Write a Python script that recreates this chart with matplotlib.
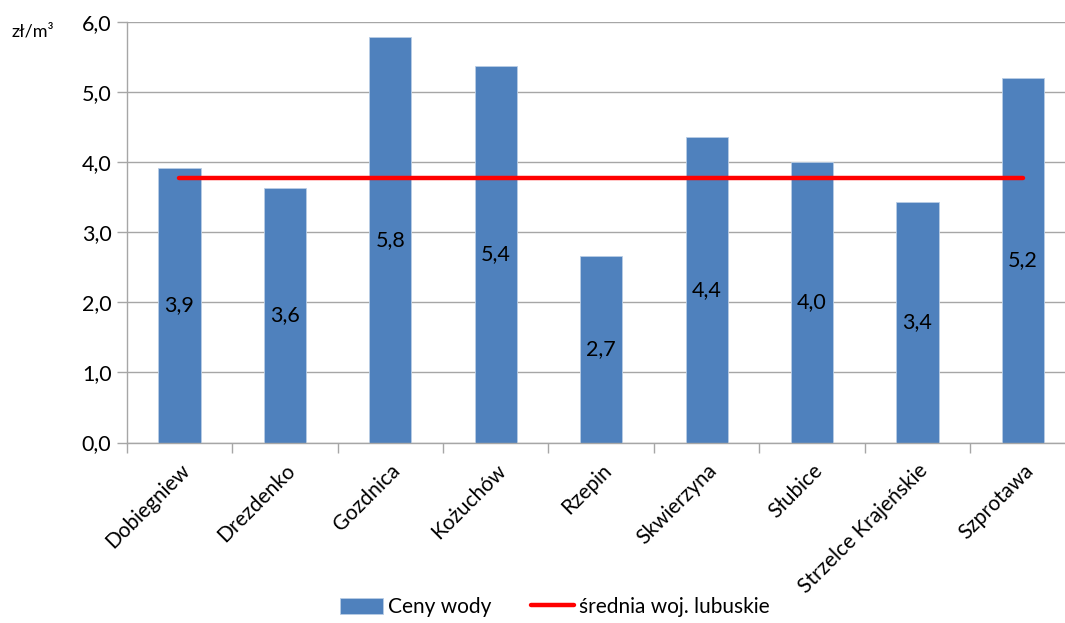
import matplotlib
matplotlib.use("Agg")
import matplotlib.pyplot as plt
import numpy as np

plt.rcParams['font.family'] = ['Lato', 'DejaVu Sans']

# ceny wody w gminach woj. lubuskiego (zł/m3)
gminy = ["Dobiegniew", "Drezdenko", "Gozdnica", "Kożuchów", "Rzepin",
         "Skwierzyna", "Słubice", "Strzelce Krajeńskie", "Szprotawa"]
ceny = [3.92, 3.63, 5.78, 5.37, 2.66, 4.36, 4.00, 3.43, 5.20]
srednia = 3.77

y_ticks = [0, 1, 2, 3, 4, 5, 6]

fig = plt.figure(figsize=(10.65, 6.23), dpi=100)
ax = fig.add_axes([0.119, 0.2897, 0.891, 0.6750])

x = np.arange(len(gminy))
bars = ax.bar(x, ceny, width=0.4, color='#4F81BD', edgecolor='#B9CDE5',
              linewidth=0.6, label='Ceny wody', zorder=2)
line, = ax.plot([x[0], x[-1]], [srednia, srednia], color='#FF0000', linewidth=3.2,
                solid_capstyle='round', label='średnia woj. lubuskie', zorder=3)

# wartości w środku słupków
for xi, v in zip(x, ceny):
    ax.text(xi, v / 2, f"{v:.1f}".replace('.', ','), ha='center', va='center',
            fontsize=15.5, color='black', zorder=4)

ax.set_xlim(-0.5, len(gminy) - 0.5)
ax.set_ylim(0, 6)
ax.set_yticks(y_ticks)
ax.set_yticklabels([f"{t:.1f}".replace('.', ',') for t in y_ticks], fontsize=15.5)
ax.yaxis.grid(True, color='#A6A6A6', linewidth=1.0, zorder=0)
ax.set_axisbelow(True)

ax.set_xticks(x)
ax.set_xticklabels(gminy, rotation=45, ha='right', va='top',
                   rotation_mode='anchor', fontsize=15)
ax.set_xticks(np.arange(-0.5, len(gminy), 1), minor=True)
ax.tick_params(axis='x', which='major', length=0, pad=13)
ax.tick_params(axis='x', which='minor', length=7, color='#A6A6A6', width=1.0)
ax.tick_params(axis='y', length=7, color='#A6A6A6', width=1.0, pad=4)

for s in ['top', 'right']:
    ax.spines[s].set_visible(False)
for s in ['left', 'bottom']:
    ax.spines[s].set_color('#A6A6A6')
    ax.spines[s].set_linewidth(1.0)

fig.text(0.011, 0.950, "zł/m³", fontsize=13, ha='left', va='center')

fig.legend([bars, line], ['Ceny wody', 'średnia woj. lubuskie'],
           loc='center', bbox_to_anchor=(0.521, 0.026), ncol=2, frameon=False,
           fontsize=15, handlelength=2.05, handleheight=0.8, columnspacing=1.9,
           handletextpad=0.25)

fig.savefig("out.png", dpi=100)
